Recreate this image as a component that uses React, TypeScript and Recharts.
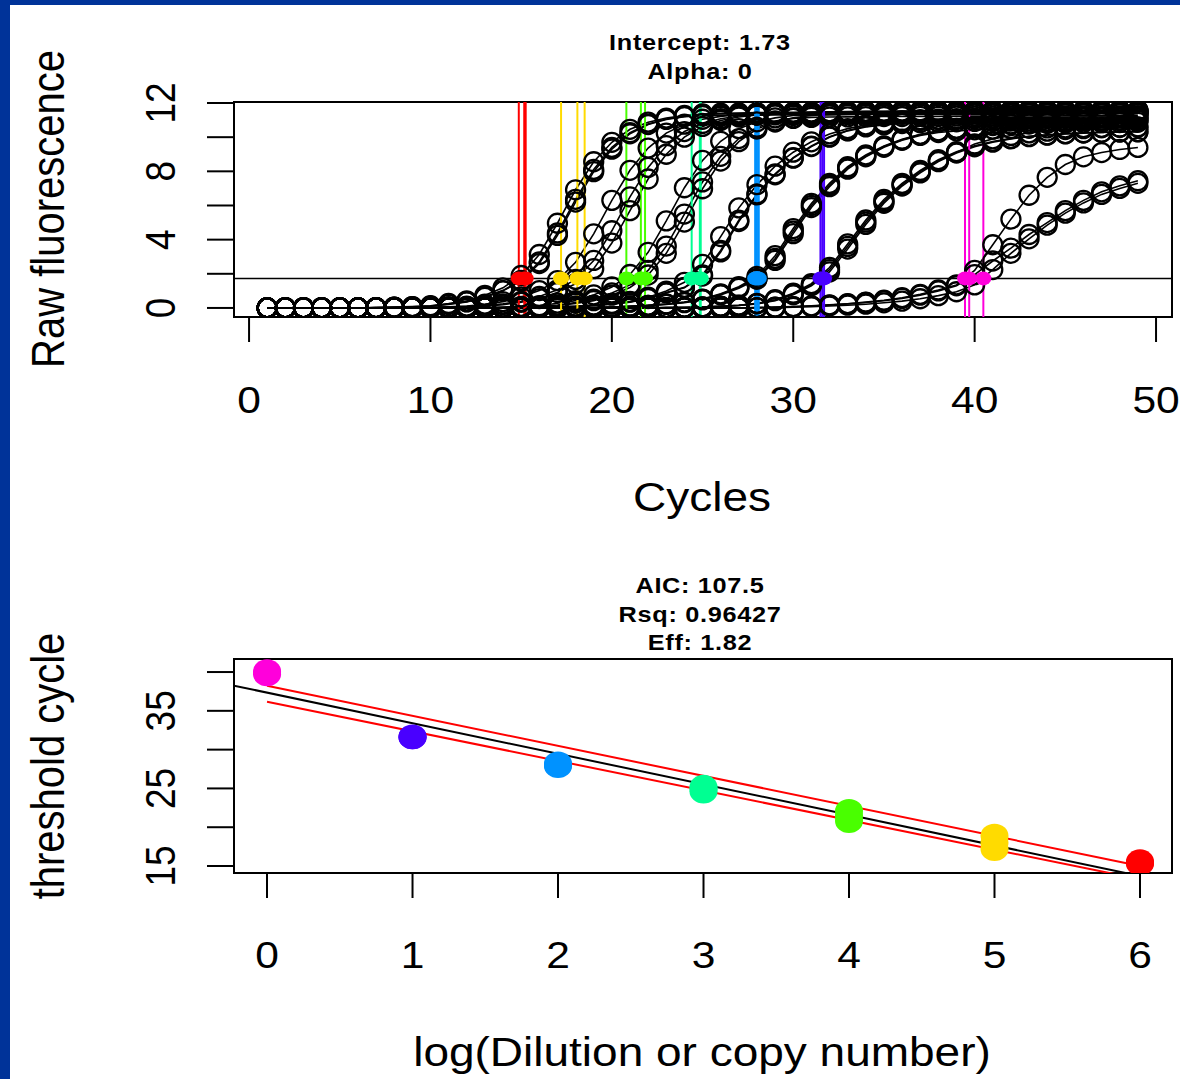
import React from 'react'
import {
  ComposedChart,
  Line,
  XAxis,
  YAxis,
  ReferenceArea,
  ReferenceDot,
} from 'recharts'

const FONT = '"Liberation Sans", Arial, Helvetica, sans-serif'
// the source image is a little wider than tall, text and marks look stretched
const STRETCH = 1.15

// ---------- amplification curves (raw fluorescence per cycle) ----------
const cycles = [
  1, 2, 3, 4, 5, 6, 7, 8, 9, 10, 11, 12, 13, 14, 15, 16, 17, 18, 19, 20, 21, 22, 23, 24, 25,
  26, 27, 28, 29, 30, 31, 32, 33, 34, 35, 36, 37, 38, 39, 40, 41, 42, 43, 44, 45, 46, 47, 48, 49,
]

const ampR1 = [
  0, 0, 0, 0, 0, 0, 0.02,
  0.05, 0.08, 0.13, 0.26, 0.42, 0.74, 1.18,
  1.9, 3.13, 4.96, 6.92, 8.56, 9.7, 10.46,
  10.88, 11.12, 11.27, 11.36, 11.4, 11.42, 11.44,
  11.45, 11.46, 11.47, 11.48, 11.49, 11.5, 11.5,
  11.51, 11.51, 11.52, 11.52, 11.53, 11.53, 11.54,
  11.54, 11.55, 11.55, 11.55, 11.56, 11.56, 11.56,
]
const ampR2 = [
  0, 0, 0, 0, 0, 0, 0.02,
  0.04, 0.07, 0.11, 0.23, 0.37, 0.65, 1.03,
  1.62, 2.7, 4.39, 6.36, 8.11, 9.4, 10.26,
  10.77, 11.06, 11.22, 11.33, 11.36, 11.38, 11.39,
  11.4, 11.41, 11.41, 11.42, 11.42, 11.43, 11.43,
  11.44, 11.44, 11.44, 11.45, 11.45, 11.45, 11.46,
  11.46, 11.46, 11.46, 11.47, 11.47, 11.47, 11.47,
]
const ampR3 = [
  0, 0, 0, 0, 0, 0, 0.02,
  0.04, 0.06, 0.1, 0.21, 0.35, 0.62, 1.0,
  1.57, 2.6, 4.25, 6.2, 7.98, 9.3, 10.2,
  10.74, 11.04, 11.2, 11.26, 11.28, 11.29, 11.3,
  11.31, 11.31, 11.32, 11.32, 11.33, 11.33, 11.33,
  11.34, 11.34, 11.34, 11.35, 11.35, 11.35, 11.35,
  11.36, 11.36, 11.36, 11.36, 11.37, 11.37, 11.37,
]
const ampY1 = [
  0, 0, 0, 0, 0, 0, 0,
  0, 0.02, 0.04, 0.07, 0.11, 0.22, 0.37,
  0.64, 1.02, 1.6, 2.67, 4.34, 6.3, 8.06,
  9.36, 10.24, 10.76, 11.05, 11.22, 11.33, 11.38,
  11.41, 11.43, 11.44, 11.45, 11.46, 11.47, 11.48,
  11.48, 11.49, 11.49, 11.5, 11.5, 11.51, 11.51,
  11.51, 11.52, 11.52, 11.52, 11.53, 11.53, 11.53,
]
const ampY2 = [
  0, 0, 0, 0, 0, 0, 0,
  0, 0, 0.02, 0.05, 0.08, 0.12, 0.24,
  0.39, 0.67, 1.06, 1.67, 2.78, 4.52, 6.5,
  8.23, 9.5, 10.33, 10.8, 11.08, 11.24, 11.3,
  11.32, 11.33, 11.34, 11.35, 11.36, 11.37, 11.37,
  11.38, 11.38, 11.39, 11.39, 11.4, 11.4, 11.4,
  11.41, 11.41, 11.41, 11.42, 11.42, 11.42, 11.42,
]
const ampY3 = [
  0, 0, 0, 0, 0, 0, 0,
  0, 0, 0.02, 0.04, 0.07, 0.1, 0.19,
  0.33, 0.55, 0.9, 1.42, 2.3, 3.8, 5.7,
  7.55, 9.0, 10.0, 10.63, 10.98, 11.18, 11.3,
  11.37, 11.42, 11.45, 11.48, 11.5, 11.51, 11.52,
  11.53, 11.54, 11.55, 11.55, 11.56, 11.56, 11.57,
  11.57, 11.57, 11.58, 11.58, 11.58, 11.59, 11.59,
]
const ampG1 = [
  0, 0, 0, 0, 0, 0, 0,
  0, 0, 0, 0, 0, 0.02, 0.06,
  0.09, 0.13, 0.28, 0.43, 0.76, 1.23, 1.96,
  3.26, 5.1, 7.04, 8.64, 9.76, 10.5, 10.9,
  11.13, 11.27, 11.3, 11.32, 11.33, 11.34, 11.35,
  11.36, 11.36, 11.37, 11.37, 11.38, 11.38, 11.39,
  11.39, 11.39, 11.4, 11.4, 11.4, 11.41, 11.41,
]
const ampG2 = [
  0, 0, 0, 0, 0, 0, 0,
  0, 0, 0, 0, 0, 0, 0.03,
  0.06, 0.1, 0.17, 0.31, 0.52, 0.88, 1.35,
  2.2, 3.62, 5.5, 7.38, 8.88, 9.92, 10.58,
  10.95, 11.1, 11.16, 11.18, 11.19, 11.2, 11.21,
  11.21, 11.22, 11.22, 11.23, 11.23, 11.23, 11.24,
  11.24, 11.24, 11.25, 11.25, 11.25, 11.25, 11.26,
]
const ampG3 = [
  0, 0, 0, 0, 0, 0, 0,
  0, 0, 0, 0, 0, 0, 0.02,
  0.05, 0.09, 0.13, 0.27, 0.43, 0.75, 1.2,
  1.93, 3.2, 5.03, 6.98, 8.6, 9.74, 10.48,
  10.89, 11.13, 11.27, 11.34, 11.38, 11.41, 11.43,
  11.44, 11.45, 11.46, 11.47, 11.47, 11.48, 11.48,
  11.49, 11.49, 11.5, 11.5, 11.5, 11.51, 11.51,
]
const ampT1 = [
  0, 0, 0, 0, 0, 0, 0,
  0, 0, 0, 0, 0, 0, 0,
  0.02, 0.04, 0.07, 0.1, 0.17, 0.26, 0.39,
  0.63, 0.99, 1.5, 2.55, 4.18, 5.86, 7.22,
  8.3, 9.12, 9.73, 10.19, 10.5, 10.72, 10.86,
  10.96, 11.02, 11.06, 11.09, 11.11, 11.13, 11.14,
  11.15, 11.16, 11.17, 11.18, 11.18, 11.19, 11.19,
]
const ampT2 = [
  0, 0, 0, 0, 0, 0, 0,
  0, 0, 0, 0, 0, 0, 0,
  0, 0.03, 0.06, 0.09, 0.15, 0.23, 0.35,
  0.57, 0.9, 1.21, 1.94, 3.37, 5.14, 6.68,
  7.85, 8.8, 9.48, 10.03, 10.39, 10.64, 10.82,
  10.92, 10.98, 11.02, 11.04, 11.06, 11.07, 11.08,
  11.09, 11.1, 11.1, 11.11, 11.11, 11.12, 11.12,
]
const ampT3 = [
  0, 0, 0, 0, 0, 0, 0,
  0, 0, 0, 0, 0, 0, 0,
  0, 0.02, 0.05, 0.09, 0.14, 0.22, 0.34,
  0.55, 0.88, 1.18, 1.87, 3.28, 5.06, 6.62,
  7.8, 8.77, 9.45, 10.0, 10.37, 10.6, 10.72,
  10.8, 10.85, 10.88, 10.9, 10.92, 10.93, 10.94,
  10.95, 10.96, 10.96, 10.97, 10.97, 10.98, 10.98,
]
const ampB1 = [
  0, 0, 0, 0, 0, 0, 0,
  0, 0, 0, 0, 0, 0, 0,
  0, 0, 0, 0.02, 0.03, 0.06, 0.1,
  0.15, 0.23, 0.34, 0.52, 0.83, 1.24, 1.85,
  3.06, 4.65, 6.12, 7.3, 8.27, 8.96, 9.49,
  9.88, 10.17, 10.37, 10.51, 10.61, 10.71, 10.78,
  10.84, 10.88, 10.92, 10.95, 10.98, 11.0, 11.02,
]
const ampB2 = [
  0, 0, 0, 0, 0, 0, 0,
  0, 0, 0, 0, 0, 0, 0,
  0, 0, 0, 0, 0.03, 0.06, 0.1,
  0.15, 0.22, 0.33, 0.5, 0.8, 1.2, 1.73,
  2.9, 4.5, 6.0, 7.2, 8.2, 8.9, 9.45,
  9.85, 10.15, 10.35, 10.5, 10.6, 10.68, 10.73,
  10.77, 10.8, 10.82, 10.84, 10.85, 10.86, 10.87,
]
const ampB3 = [
  0, 0, 0, 0, 0, 0, 0,
  0, 0, 0, 0, 0, 0, 0,
  0, 0, 0, 0, 0.02, 0.05, 0.09,
  0.14, 0.21, 0.31, 0.47, 0.76, 1.15, 1.68,
  2.78, 4.35, 5.88, 7.1, 8.13, 8.85, 9.41,
  9.82, 10.1, 10.27, 10.37, 10.43, 10.47, 10.5,
  10.52, 10.54, 10.55, 10.56, 10.57, 10.58, 10.58,
]
const ampP1 = [
  0, 0, 0, 0, 0, 0, 0,
  0, 0, 0, 0, 0, 0, 0,
  0, 0, 0, 0, 0, 0, 0,
  0, 0.02, 0.04, 0.06, 0.1, 0.16, 0.27,
  0.48, 0.86, 1.42, 2.37, 3.75, 5.15, 6.35,
  7.3, 8.05, 8.68, 9.15, 9.5, 9.75, 9.93,
  10.05, 10.14, 10.21, 10.26, 10.29, 10.31, 10.33,
]
const ampP2 = [
  0, 0, 0, 0, 0, 0, 0,
  0, 0, 0, 0, 0, 0, 0,
  0, 0, 0, 0, 0, 0, 0,
  0, 0.02, 0.03, 0.06, 0.09, 0.15, 0.25,
  0.45, 0.81, 1.36, 2.24, 3.6, 5.02, 6.24,
  7.22, 7.98, 8.62, 9.11, 9.6, 9.9, 10.1,
  10.25, 10.35, 10.45, 10.5, 10.55, 10.58, 10.6,
]
const ampP3 = [
  0, 0, 0, 0, 0, 0, 0,
  0, 0, 0, 0, 0, 0, 0,
  0, 0, 0, 0, 0, 0, 0,
  0, 0.02, 0.03, 0.05, 0.09, 0.14, 0.24,
  0.43, 0.77, 1.3, 2.11, 3.45, 4.89, 6.13,
  7.14, 7.91, 8.57, 9.07, 9.44, 9.71, 9.9,
  10.03, 10.12, 10.19, 10.24, 10.27, 10.3, 10.31,
]
const ampM1 = [
  0, 0, 0, 0, 0, 0, 0,
  0, 0, 0, 0, 0, 0, 0,
  0, 0, 0, 0, 0, 0, 0,
  0, 0, 0, 0, 0, 0, 0.02,
  0.05, 0.08, 0.12, 0.18, 0.25, 0.34, 0.45,
  0.6, 0.8, 1.05, 1.35, 2.2, 3.7, 5.2,
  6.6, 7.65, 8.4, 8.85, 9.1, 9.28, 9.4,
]
const ampM2 = [
  0, 0, 0, 0, 0, 0, 0,
  0, 0, 0, 0, 0, 0, 0,
  0, 0, 0, 0, 0, 0, 0,
  0, 0, 0, 0, 0, 0, 0.02,
  0.04, 0.07, 0.11, 0.17, 0.24, 0.32, 0.42,
  0.56, 0.75, 1.0, 1.3, 1.95, 2.75, 3.5,
  4.3, 5.0, 5.7, 6.3, 6.8, 7.15, 7.45,
]
const ampM3 = [
  0, 0, 0, 0, 0, 0, 0,
  0, 0, 0, 0, 0, 0, 0,
  0, 0, 0, 0, 0, 0, 0,
  0, 0, 0, 0, 0, 0, 0,
  0.02, 0.04, 0.07, 0.11, 0.16, 0.22, 0.3,
  0.4, 0.54, 0.72, 0.95, 1.35, 2.25, 3.2,
  4.05, 4.85, 5.55, 6.15, 6.65, 7.0, 7.3,
]

const ampCurves = [
  ampR1, ampR2, ampR3, ampY1, ampY2, ampY3, ampG1, ampG2, ampG3,
  ampT1, ampT2, ampT3, ampB1, ampB2, ampB3, ampP1, ampP2, ampP3,
  ampM1, ampM2, ampM3,
]

// threshold crossings (Ct) and the dilution group of each run
const crossingCt = [
  14.87, 15.17, 15.25, 17.2, 18.1, 18.5, 20.8, 21.6, 21.83, 24.4, 24.85,
  24.9, 27.9, 28.0, 28.1, 31.5, 31.6, 31.7, 39.47, 39.7, 40.48,
]
const crossingGroup = [0, 0, 0, 1, 1, 1, 2, 2, 2, 3, 3, 3, 4, 4, 4, 5, 5, 5, 6, 6, 6]
const thresholdLevel = 1.73

// rainbow(7)
const rainbow7 = ['#FF0000', '#FFDB00', '#49FF00', '#00FF92', '#0092FF', '#4900FF', '#FF00DB']

// ---------- standard curve ----------
const stdLogDilution = [0, 0, 0, 1, 1, 1, 2, 2, 2, 3, 3, 3, 4, 4, 4, 5, 5, 5, 6, 6, 6]
const stdCt = [
  40.1, 39.9, 39.7, 31.7, 31.6, 31.6, 28.2, 28.0, 27.9, 25.2, 24.9,
  24.6, 22.1, 21.5, 20.8, 18.9, 18.0, 17.2, 15.6, 15.4, 15.3,
]
const stdGroup = [6, 6, 6, 5, 5, 5, 4, 4, 4, 3, 3, 3, 2, 2, 2, 1, 1, 1, 0, 0, 0]

const fitIntercept = 37.35
const fitSlope = -3.94
const bandX = [0, 6]
const bandUpper = [38.23, 15.0]
const bandLower = [36.17, 13.3]

const topTitle = ['Intercept: 1.73', 'Alpha: 0']
const bottomTitle = ['AIC: 107.5', 'Rsq: 0.96427', 'Eff: 1.82']

// ---------- layout ----------
const TOP_X: [number, number] = [-0.83, 50.88]
const TOP_Y: [number, number] = [-0.53, 12.06]
const BOT_X: [number, number] = [-0.227, 6.22]
const BOT_Y: [number, number] = [14.1, 41.68]

const ampRows = cycles.map((c, i) => {
  const row: Record<string, number> = { cycle: c }
  ampCurves.forEach((curve, k) => {
    row[`s${k}`] = curve[i]
  })
  return row
})

// vertical Ct markers and the threshold, as two-point series so they stack above the curves
const ctSegments = crossingCt.map((ct) => [
  { cycle: ct, v: TOP_Y[0] },
  { cycle: ct, v: TOP_Y[1] },
])
const thresholdSegment = [
  { cycle: TOP_X[0], v: thresholdLevel },
  { cycle: TOP_X[1], v: thresholdLevel },
]

const stdPoints = stdLogDilution.map((x, i) => ({ x, y: stdCt[i], group: stdGroup[i] }))
const fitSegment = [
  { x: BOT_X[0], y: fitIntercept + fitSlope * BOT_X[0] },
  { x: BOT_X[1], y: fitIntercept + fitSlope * BOT_X[1] },
]
const upperSegment = bandX.map((x, i) => ({ x, y: bandUpper[i] }))
const lowerSegment = bandX.map((x, i) => ({ x, y: bandLower[i] }))

const ring = (p: any) => (
  <circle
    key={`ring-${p.dataKey}-${p.index}`}
    cx={p.cx}
    cy={p.cy}
    r={9.5}
    fill="none"
    stroke="#000"
    strokeWidth={2.3}
  />
)

const blob = (p: any) => (
  <ellipse
    key={`blob-${p.index}`}
    cx={p.cx}
    cy={p.cy}
    rx={14}
    ry={12}
    fill={rainbow7[p.payload.group]}
  />
)

function XTick(props: any) {
  const { x, payload, labelY } = props
  return (
    <text
      transform={`translate(${x},${labelY}) scale(${STRETCH},1)`}
      textAnchor="middle"
      dominantBaseline="central"
      fontSize={37}
      fontFamily={FONT}
      fill="#000"
    >
      {payload.value}
    </text>
  )
}

function YTick(props: any) {
  const { y, payload, show } = props
  if (!show.includes(payload.value)) return <g />
  return (
    <text
      transform={`translate(160,${y}) scale(${STRETCH},1) rotate(-90)`}
      textAnchor="middle"
      dominantBaseline="central"
      fontSize={37}
      fontFamily={FONT}
      fill="#000"
    >
      {payload.value}
    </text>
  )
}

function TitleLines({ lines, y0 }: { lines: string[]; y0: number }) {
  return (
    <>
      {lines.map((t, i) => (
        <text
          key={t}
          transform={`translate(700,${y0 + i * 28.5}) scale(${STRETCH},1)`}
          textAnchor="middle"
          dominantBaseline="central"
          fontSize={22}
          fontWeight="bold"
          letterSpacing={0.6}
          fontFamily={FONT}
          fill="#000"
        >
          {t}
        </text>
      ))}
    </>
  )
}

function AmplificationPlot() {
  return (
    <ComposedChart
      width={1180}
      height={560}
      data={ampRows}
      margin={{ top: 102, right: 8, bottom: 0, left: 0 }}
    >
      <XAxis
        dataKey="cycle"
        type="number"
        domain={TOP_X}
        allowDataOverflow
        ticks={[0, 10, 20, 30, 40, 50]}
        interval={0}
        height={243}
        axisLine={false}
        tickLine={{ stroke: '#000', strokeWidth: 2 }}
        tickSize={25}
        tick={(p: any) => <XTick {...p} labelY={400} />}
      />
      <YAxis
        type="number"
        domain={TOP_Y}
        allowDataOverflow
        ticks={[0, 2, 4, 6, 8, 10, 12]}
        interval={0}
        width={234}
        axisLine={false}
        tickLine={{ stroke: '#000', strokeWidth: 2 }}
        tickSize={27}
        tick={(p: any) => <YTick {...p} show={[0, 4, 8, 12]} />}
      />
      <ReferenceArea
        x1={TOP_X[0]}
        x2={TOP_X[1]}
        y1={TOP_Y[0]}
        y2={TOP_Y[1]}
        fill="none"
        stroke="#000"
        strokeWidth={2}
        ifOverflow="visible"
      />
      {ampCurves.map((_, k) => (
        <Line
          key={`s${k}`}
          dataKey={`s${k}`}
          type="linear"
          stroke="#000"
          strokeWidth={1.6}
          dot={ring}
          activeDot={false}
          isAnimationActive={false}
        />
      ))}
      {ctSegments.map((seg, i) => (
        <Line
          key={`ct${i}`}
          data={seg}
          dataKey="v"
          type="linear"
          stroke={rainbow7[crossingGroup[i]]}
          strokeWidth={2}
          dot={false}
          activeDot={false}
          isAnimationActive={false}
        />
      ))}
      <Line
        data={thresholdSegment}
        dataKey="v"
        type="linear"
        stroke="#000"
        strokeWidth={1.5}
        dot={false}
        activeDot={false}
        isAnimationActive={false}
      />
      {crossingCt.map((ct, i) => (
        <ReferenceDot
          key={`d${i}`}
          x={ct}
          y={thresholdLevel}
          r={7}
          zIndex={650}
          shape={(p: any) => (
            <ellipse cx={p.cx} cy={p.cy} rx={8} ry={7} fill={rainbow7[crossingGroup[i]]} />
          )}
        />
      ))}
    </ComposedChart>
  )
}

function StandardCurvePlot() {
  return (
    <ComposedChart width={1180} height={519} margin={{ top: 99, right: 8, bottom: 0, left: 0 }}>
      <XAxis
        dataKey="x"
        type="number"
        domain={BOT_X}
        allowDataOverflow
        ticks={[0, 1, 2, 3, 4, 5, 6]}
        interval={0}
        height={206}
        axisLine={false}
        tickLine={{ stroke: '#000', strokeWidth: 2 }}
        tickSize={25}
        tick={(p: any) => <XTick {...p} labelY={395} />}
      />
      <YAxis
        type="number"
        domain={BOT_Y}
        allowDataOverflow
        ticks={[15, 20, 25, 30, 35, 40]}
        interval={0}
        width={234}
        axisLine={false}
        tickLine={{ stroke: '#000', strokeWidth: 2 }}
        tickSize={27}
        tick={(p: any) => <YTick {...p} show={[15, 25, 35]} />}
      />
      <ReferenceArea
        x1={BOT_X[0]}
        x2={BOT_X[1]}
        y1={BOT_Y[0]}
        y2={BOT_Y[1]}
        fill="none"
        stroke="#000"
        strokeWidth={2}
        ifOverflow="visible"
      />
      {/* standard points: a series with no connecting stroke */}
      <Line
        data={stdPoints}
        dataKey="y"
        stroke="none"
        dot={blob}
        activeDot={false}
        isAnimationActive={false}
      />
      <Line
        data={fitSegment}
        dataKey="y"
        type="linear"
        stroke="#000"
        strokeWidth={2}
        dot={false}
        activeDot={false}
        isAnimationActive={false}
      />
      <Line
        data={upperSegment}
        dataKey="y"
        type="linear"
        stroke="#FF0000"
        strokeWidth={2}
        dot={false}
        activeDot={false}
        isAnimationActive={false}
      />
      <Line
        data={lowerSegment}
        dataKey="y"
        type="linear"
        stroke="#FF0000"
        strokeWidth={2}
        dot={false}
        activeDot={false}
        isAnimationActive={false}
      />
    </ComposedChart>
  )
}

export default function App() {
  const labelStyle = { fontSize: 40, fontFamily: FONT, fill: '#000' }
  return (
    <div
      style={{
        position: 'absolute',
        left: 0,
        top: 0,
        width: 1180,
        height: 1079,
        background: '#fff',
        overflow: 'hidden',
      }}
    >
      <div style={{ position: 'absolute', left: 0, top: 0 }}>
        <AmplificationPlot />
      </div>
      <div style={{ position: 'absolute', left: 0, top: 560 }}>
        <StandardCurvePlot />
      </div>
      <svg
        width={1180}
        height={1079}
        style={{ position: 'absolute', left: 0, top: 0, pointerEvents: 'none' }}
      >
        <TitleLines lines={topTitle} y0={43} />
        <TitleLines lines={bottomTitle} y0={586} />
        <text
          transform={`translate(702,497) scale(${STRETCH},1)`}
          textAnchor="middle"
          dominantBaseline="central"
          {...labelStyle}
        >
          Cycles
        </text>
        <text
          transform={`translate(702,1052) scale(${STRETCH},1)`}
          textAnchor="middle"
          dominantBaseline="central"
          {...labelStyle}
        >
          log(Dilution or copy number)
        </text>
        <text
          transform={`translate(48,209) scale(${STRETCH},1) rotate(-90)`}
          textAnchor="middle"
          dominantBaseline="central"
          {...labelStyle}
        >
          Raw fluorescence
        </text>
        <text
          transform={`translate(48,766) scale(${STRETCH},1) rotate(-90)`}
          textAnchor="middle"
          dominantBaseline="central"
          {...labelStyle}
        >
          threshold cycle
        </text>
      </svg>
      <div style={{ position: 'absolute', left: 0, top: 0, width: 1180, height: 5, background: '#003399' }} />
      <div style={{ position: 'absolute', left: 0, top: 0, width: 10, height: 1079, background: '#003399' }} />
    </div>
  )
}
